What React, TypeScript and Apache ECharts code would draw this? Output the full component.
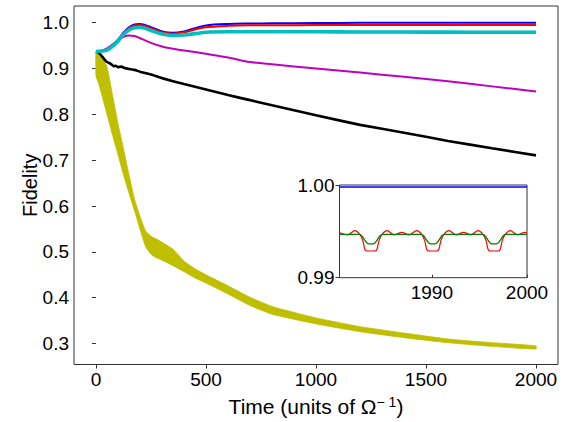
import React, { useEffect, useRef } from 'react';
import * as echarts from 'echarts';

// ---- main panel data (time in units of 1/Omega, fidelity) ----
const T_MAIN = [0, 25, 50, 75, 100, 125, 150, 175, 200, 250, 300, 350, 400, 450, 500, 600, 700, 800, 1000, 1200, 1400, 1600, 1800, 2000];
const BLUE = [0.937, 0.938, 0.941, 0.95, 0.963, 0.978, 0.99, 0.996, 0.997, 0.99, 0.981, 0.978, 0.981, 0.988, 0.994, 0.997, 0.998, 0.9985, 0.9993, 0.9996, 0.9997, 0.9997, 0.9998, 0.9998];
const RED = [0.937, 0.938, 0.941, 0.95, 0.962, 0.977, 0.988, 0.994, 0.995, 0.988, 0.979, 0.976, 0.979, 0.985, 0.99, 0.993, 0.9942, 0.9945, 0.9946, 0.9947, 0.9947, 0.9947, 0.9947, 0.9947];
const CYAN = [0.937, 0.938, 0.94, 0.948, 0.96, 0.974, 0.984, 0.989, 0.99, 0.983, 0.975, 0.972, 0.973, 0.976, 0.979, 0.98, 0.98, 0.98, 0.98, 0.9797, 0.9795, 0.9793, 0.979, 0.979];
const MAGENTA = [0.937, 0.939, 0.944, 0.952, 0.962, 0.969, 0.972, 0.971, 0.966, 0.956, 0.948, 0.943, 0.939, 0.936, 0.932, 0.924, 0.914, 0.909, 0.9, 0.891, 0.882, 0.872, 0.861, 0.85];

const T_BLACK = [0, 10, 20, 30, 40, 50, 60, 70, 80, 90, 100, 115, 130, 150, 175, 200, 250, 300, 400, 500, 600, 700, 800, 1000, 1200, 1400, 1600, 1800, 2000];
const BLACK = [0.937, 0.935, 0.931, 0.925, 0.919, 0.914, 0.912, 0.909, 0.905, 0.906, 0.903, 0.904, 0.901, 0.899, 0.897, 0.893, 0.887, 0.879, 0.866, 0.854, 0.842, 0.831, 0.82, 0.798, 0.777, 0.76, 0.742, 0.726, 0.7105];

// yellow curve oscillates fast: drawn as the band between its upper / lower envelope
const T_YELLOW = [0, 10, 25, 50, 75, 100, 125, 150, 175, 200, 225, 250, 275, 300, 350, 400, 450, 500, 600, 700, 800, 1000, 1200, 1400, 1600, 1800, 2000];
const YELLOW_UP = [0.937, 0.934, 0.927, 0.903, 0.842, 0.78, 0.725, 0.668, 0.615, 0.578, 0.546, 0.534, 0.528, 0.521, 0.506, 0.48, 0.463, 0.45, 0.426, 0.401, 0.381, 0.356, 0.337, 0.323, 0.31, 0.302, 0.295];
const YELLOW_LO = [0.883, 0.87, 0.845, 0.8, 0.755, 0.712, 0.668, 0.628, 0.59, 0.55, 0.512, 0.495, 0.487, 0.482, 0.47, 0.457, 0.443, 0.432, 0.408, 0.383, 0.364, 0.343, 0.326, 0.313, 0.302, 0.294, 0.288];

const X_TICKS = [0, 500, 1000, 1500, 2000];
const Y_TICKS = [0.3, 0.4, 0.5, 0.6, 0.7, 0.8, 0.9, 1.0];

// ---- inset data ----
const T_INSET_BLUE = [1980.3, 2000];
const INSET_BLUE = [0.99978, 0.99978];

const T_INSET_RED = [
  1980.3, 1980.36, 1981.15, 1981.9, 1982.45, 1982.75, 1982.95, 1983.1, 1983.6, 1984.1, 1984.25, 1984.45, 1984.75, 1985.3, 1986.05, 1986.84,
  1987.6, 1988.4, 1988.95, 1989.25, 1989.45, 1989.6, 1990.1, 1990.6, 1990.75, 1990.95, 1991.25, 1991.8, 1992.55, 1993.33,
  1994.1, 1994.85, 1995.4, 1995.7, 1995.9, 1996.05, 1996.55, 1997.05, 1997.2, 1997.4, 1997.7, 1998.25, 1999.0, 1999.79, 2000,
];
const INSET_RED = [
  0.99488, 0.9949, 0.99462, 0.99507, 0.99465, 0.994, 0.9931, 0.9929, 0.99288, 0.9929, 0.9931, 0.994, 0.99465, 0.99507, 0.99462, 0.9949,
  0.99462, 0.99507, 0.99465, 0.994, 0.9931, 0.9929, 0.99288, 0.9929, 0.9931, 0.994, 0.99465, 0.99507, 0.99462, 0.9949,
  0.99462, 0.99507, 0.99465, 0.994, 0.9931, 0.9929, 0.99288, 0.9929, 0.9931, 0.994, 0.99465, 0.99507, 0.99462, 0.9949, 0.9948,
];

const T_INSET_GREEN = [
  1980.3, 1981.4, 1982.4, 1982.7, 1982.95, 1983.2, 1983.6, 1984.0, 1984.25, 1984.5, 1984.8, 1986.0, 1987.5, 1988.9,
  1989.2, 1989.45, 1989.7, 1990.1, 1990.5, 1990.75, 1991.0, 1991.3, 1992.5, 1994.0, 1995.35,
  1995.65, 1995.9, 1996.15, 1996.55, 1996.95, 1997.2, 1997.45, 1997.75, 1999.0, 2000,
];
const INSET_GREEN = [
  0.99468, 0.99468, 0.99468, 0.99445, 0.99405, 0.99372, 0.99364, 0.99372, 0.99405, 0.99445, 0.99468, 0.99468, 0.99468, 0.99468,
  0.99445, 0.99405, 0.99372, 0.99364, 0.99372, 0.99405, 0.99445, 0.99468, 0.99468, 0.99468, 0.99468,
  0.99445, 0.99405, 0.99372, 0.99364, 0.99372, 0.99405, 0.99445, 0.99468, 0.99468, 0.99468,
];
const INSET_X_TICKS = [1990, 2000];
const INSET_Y_TICKS = [0.99, 1.0];

const pairs = (t: number[], v: number[]) => t.map((x, i) => [x, v[i]]);

export default function App() {
  const ref = useRef<HTMLDivElement>(null);

  useEffect(() => {
    const chart = echarts.init(ref.current!, null, { renderer: 'svg' });
    const font = 'Liberation Sans, Arial, Helvetica, sans-serif';
    const axisColor = '#333';
    const yellow = '#bfbf00';

    const line = (name: string, data: number[][], color: string, width: number, extra: any = {}) => ({
      name,
      type: 'line',
      data,
      showSymbol: false,
      symbol: 'none',
      lineStyle: { color, width },
      itemStyle: { color },
      ...extra,
    });

    // the yellow band: one polygon, upper envelope forward then lower envelope backward
    const bandData = T_YELLOW.map((t, i) => [t, YELLOW_UP[i], YELLOW_LO[i]]);
    const renderBand = (params: any, api: any) => {
      if (params.dataIndex !== 0) return null;
      const up = bandData.map((d) => api.coord([d[0], d[1]]));
      const lo = bandData.map((d) => api.coord([d[0], d[2]])).reverse();
      return {
        type: 'polygon',
        shape: { points: up.concat(lo), smooth: 0.15 },
        style: { fill: yellow, stroke: yellow, lineWidth: 0.8 },
      };
    };

    chart.setOption({
      animation: false,
      backgroundColor: '#fff',
      textStyle: { fontFamily: font },
      grid: [
        { left: 74, top: 6, width: 484, height: 360, show: true, borderColor: axisColor, borderWidth: 1, backgroundColor: 'transparent' },
        { left: 339.5, top: 185, width: 187.5, height: 92.7, show: true, borderColor: axisColor, borderWidth: 1, backgroundColor: '#fff', z: 5 },
      ],
      xAxis: [
        {
          type: 'value', gridIndex: 0, min: -100, max: 2100,
          axisLine: { show: false },
          splitLine: { show: false },
          axisTick: { show: true, customValues: X_TICKS, length: 4, lineStyle: { color: axisColor } },
          axisLabel: { customValues: X_TICKS, fontSize: 19, color: '#000', margin: 5, fontFamily: font, formatter: (v: number) => String(v) },
          name: '{a|Time (units of Ω}{s|− 1}{a|)}',
          nameLocation: 'middle',
          nameGap: 30,
          nameTextStyle: {
            fontSize: 21, color: '#000', fontFamily: font,
            rich: {
              a: { fontSize: 21, lineHeight: 24, color: '#000', fontFamily: font },
              s: { fontSize: 14, lineHeight: 14, verticalAlign: 'top', color: '#000', fontFamily: font },
            },
          },
        },
        {
          type: 'value', gridIndex: 1, min: 1980.3, max: 2000,
          axisLine: { show: false },
          splitLine: { show: false },
          axisTick: { show: true, customValues: INSET_X_TICKS, inside: true, length: 3, lineStyle: { color: axisColor } },
          axisLabel: { customValues: INSET_X_TICKS, fontSize: 19, color: '#000', margin: 5, fontFamily: font, showMinLabel: true, showMaxLabel: true, formatter: (v: number) => String(v) },
          z: 6,
        },
      ],
      yAxis: [
        {
          type: 'value', gridIndex: 0, min: 0.2544, max: 1.0363,
          axisLine: { show: false },
          splitLine: { show: false },
          axisTick: { show: true, customValues: Y_TICKS, length: 4, lineStyle: { color: axisColor } },
          axisLabel: { customValues: Y_TICKS, fontSize: 19, color: '#000', margin: 5, fontFamily: font, formatter: (v: number) => v.toFixed(1) },
          name: 'Fidelity',
          nameLocation: 'middle',
          nameRotate: 90,
          nameGap: 34,
          nameMoveOverlap: false,
          nameTextStyle: { fontSize: 20, color: '#000', fontFamily: font },
        },
        {
          type: 'value', gridIndex: 1, min: 0.99, max: 1.0,
          axisLine: { show: false },
          splitLine: { show: false },
          axisTick: { show: true, customValues: INSET_Y_TICKS, length: 4, lineStyle: { color: axisColor } },
          axisLabel: { customValues: INSET_Y_TICKS, fontSize: 19, color: '#000', margin: 5, fontFamily: font, showMinLabel: true, showMaxLabel: true, formatter: (v: number) => v.toFixed(2) },
          z: 6,
        },
      ],
      series: [
        {
          name: 'yellow',
          type: 'custom',
          xAxisIndex: 0,
          yAxisIndex: 0,
          data: bandData,
          encode: { x: 0, y: [1, 2] },
          renderItem: renderBand,
          clip: true,
          z: 1,
        },
        line('black', pairs(T_BLACK, BLACK), '#000000', 2.6, { smooth: 0.15 }),
        line('magenta', pairs(T_MAIN, MAGENTA), '#c000c0', 2, { smooth: 0.3 }),
        line('blue', pairs(T_MAIN, BLUE), '#0000ff', 2, { smooth: 0.3 }),
        line('red', pairs(T_MAIN, RED), '#ff0000', 2, { smooth: 0.3 }),
        line('cyan', pairs(T_MAIN, CYAN), '#00bfbf', 3.6, { smooth: 0.3 }),
        line('inset-blue', pairs(T_INSET_BLUE, INSET_BLUE), '#0000ff', 1.5, { xAxisIndex: 1, yAxisIndex: 1, z: 7 }),
        line('inset-red', pairs(T_INSET_RED, INSET_RED), '#ff0000', 1.2, { xAxisIndex: 1, yAxisIndex: 1, smooth: 0.3, z: 7 }),
        line('inset-green', pairs(T_INSET_GREEN, INSET_GREEN), '#008000', 1.3, { xAxisIndex: 1, yAxisIndex: 1, smooth: 0.3, z: 8 }),
      ],
    });

    return () => chart.dispose();
  }, []);

  return <div ref={ref} style={{ position: 'fixed', left: 0, top: 0, width: 575, height: 422 }} />;
}
